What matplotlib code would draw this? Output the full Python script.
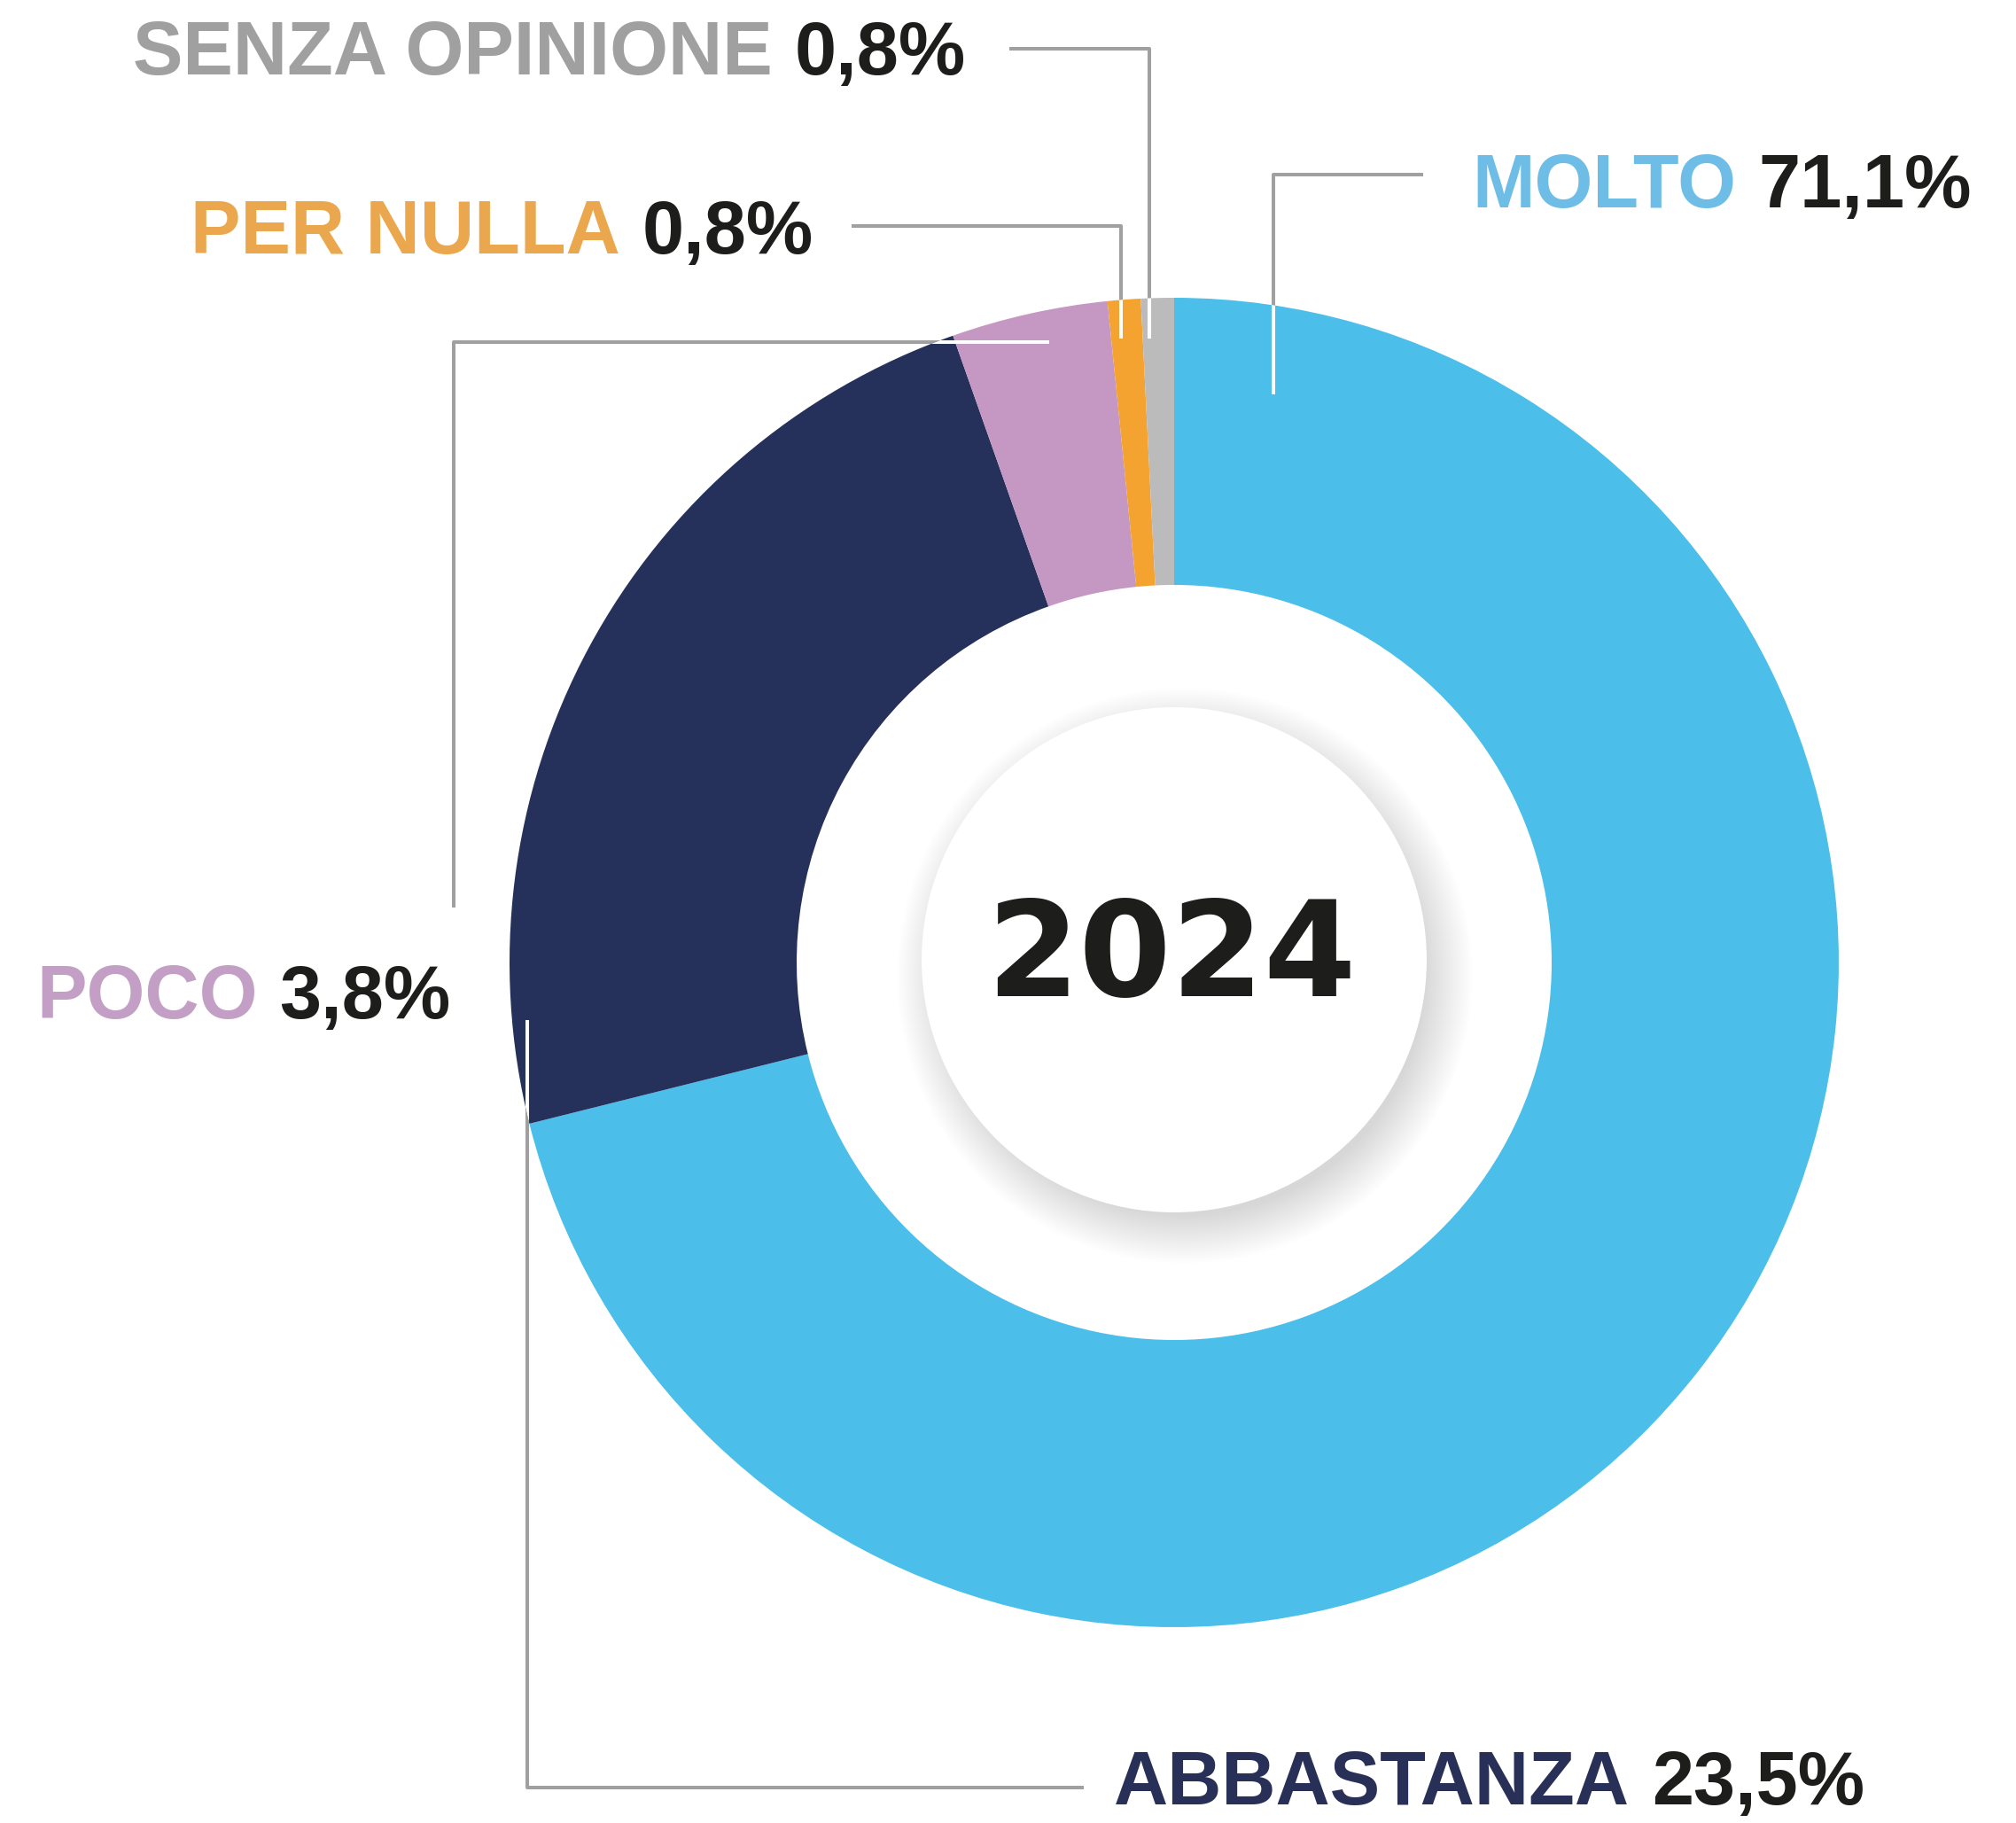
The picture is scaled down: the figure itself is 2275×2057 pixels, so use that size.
import matplotlib
matplotlib.use("Agg")
import matplotlib.pyplot as plt
from matplotlib.patches import Circle

# ---- data ----
categories = ["MOLTO", "ABBASTANZA", "POCO", "PER NULLA", "SENZA OPINIONE"]
values = [71.1, 23.5, 3.8, 0.8, 0.8]
value_labels = ["71,1%", "23,5%", "3,8%", "0,8%", "0,8%"]
year_label = "2024"

slice_colors = ["#4BBFEA", "#25315A", "#C598C4", "#F4A331", "#BBBBBB"]
label_colors = ["#6EBDE6", "#283057", "#C39FC6", "#EBA74D", "#A0A0A0"]
number_color = "#1D1D1B"
leader_color = "#A0A0A0"

W, H = 2275, 2057
fig = plt.figure(figsize=(W / 100, H / 100), dpi=100)
ax = fig.add_axes([0, 0, 1, 1])
ax.set_xlim(0, W)
ax.set_ylim(0, H)
ax.axis("off")


def Y(y):
    return H - y


cx, cy = 1325, 1086
R_out, R_in = 750, 426

# leader lines (pixel coordinates, y downward), drawn under the ring
leaders = {
    "MOLTO": [(1437, 445), (1437, 197), (1606, 197)],
    "ABBASTANZA": [(595, 1151), (595, 2017), (1223, 2017)],
    "POCO": [(1184, 386), (512, 386), (512, 1024)],
    "PER NULLA": [(1265, 382), (1265, 255), (961, 255)],
    "SENZA OPINIONE": [(1297, 382), (1297, 55), (1139, 55)],
}
lw = 2.9
for name, pts in leaders.items():
    xs = [p[0] for p in pts]
    ys = [Y(p[1]) for p in pts]
    ax.plot(xs, ys, color=leader_color, lw=lw, solid_capstyle="butt", zorder=1)

wedges, _ = ax.pie(values, colors=slice_colors, startangle=90, counterclock=False,
                   radius=R_out, center=(cx, Y(cy)),
                   wedgeprops=dict(width=R_out - R_in, linewidth=0))
for w in wedges:
    w.set_zorder(2)
ax.set_xlim(0, W)
ax.set_ylim(0, H)

clip = Circle((cx, Y(cy)), R_out, transform=ax.transData)
for name, pts in leaders.items():
    xs = [p[0] for p in pts]
    ys = [Y(p[1]) for p in pts]
    ln, = ax.plot(xs, ys, color="white", lw=lw, solid_capstyle="butt", zorder=3)
    ln.set_clip_path(clip)

# inner disc with soft shadow
dcx, dcy, dr = 1325, 1083, 285
n = 40
for i in range(n):
    ax.add_patch(Circle((dcx + 12, Y(dcy + 18)), dr + 40 - i * 1.4,
                        facecolor="#606060", edgecolor="none", alpha=0.0045, zorder=4))
ax.add_patch(Circle((dcx, Y(dcy)), dr, facecolor="white", edgecolor="none", zorder=5))

ax.text(1322, Y(1083), year_label, ha="center", va="center", fontsize=108,
        fontweight="bold", family="DejaVu Sans", color=number_color, zorder=6)

# labels: left x, baseline y (pixels)
label_pos = {
    "MOLTO": (1661, 234),
    "ABBASTANZA": (1257, 2036),
    "POCO": (41, 1149),
    "PER NULLA": (215, 286),
    "SENZA OPINIONE": (150, 84),
}
fs = 61
for name, vlab, col in zip(categories, value_labels, label_colors):
    x, y = label_pos[name]
    t = ax.text(x, Y(y), name, ha="left", va="baseline", fontsize=fs,
                fontweight="bold", family="Liberation Sans", color=col, zorder=6)
    ax.annotate(vlab, xy=(1, 0), xycoords=t, xytext=(18, 0), textcoords="offset points",
                ha="left", va="bottom", fontsize=fs, fontweight="bold",
                family="Liberation Sans", color=number_color, zorder=6)

fig.savefig("out.png", dpi=100, facecolor="white")
